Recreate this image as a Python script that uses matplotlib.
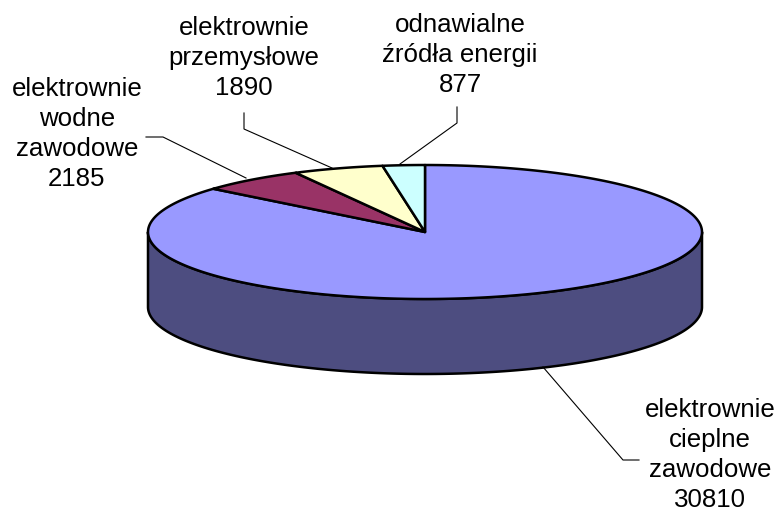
import numpy as np
import matplotlib
matplotlib.use("Agg")
import matplotlib.pyplot as plt

labels = ["elektrownie\ncieplne\nzawodowe", "elektrownie\nwodne\nzawodowe",
          "elektrownie\nprzemysłowe", "odnawialne\nźródła energii"]
values = [30810, 2185, 1890, 877]
colors = ["#9999FF", "#993366", "#FFFFCC", "#CCFFFF"]
side_color = "#4D4D80"

plt.rcParams["font.family"] = ["Liberation Sans", "DejaVu Sans"]
fig = plt.figure(figsize=(7.78, 5.12), dpi=100)
ax = fig.add_axes([0, 0, 1, 1])
ax.set_xlim(0, 778)
ax.set_ylim(512, 0)
ax.axis("off")

cx, cy, rx, ry, depth = 425, 232, 277, 67, 75

def pt(frac):
    a = 2 * np.pi * np.asarray(frac)
    return cx + rx * np.sin(a), cy - ry * np.cos(a)

# side wall (front half of the rim)
f = np.linspace(0.25, 0.75, 200)
x, y = pt(f)
ax.fill(np.r_[x, x[::-1]], np.r_[y + depth, y[::-1]], fc=side_color, ec="black", lw=1.8,
        joinstyle="round", zorder=1)

# top wedges, clockwise from 12 o'clock
fr = np.cumsum([0] + values) / sum(values)
for i, c in enumerate(colors):
    f = np.linspace(fr[i], fr[i + 1], 240)
    x, y = pt(f)
    ax.fill(np.r_[cx, x], np.r_[cy, y], fc=c, ec="black", lw=1.8, joinstyle="round", zorder=2)

# leader lines
leaders = [([543, 623, 639], [367, 460, 460]),
           ([146, 163, 246], [137, 137, 178]),
           ([244, 244, 332], [113, 129, 168]),
           ([457, 457, 400], [107, 123, 164])]
for lx, ly in leaders:
    ax.plot(lx, ly, color="black", lw=0.8, zorder=3)

# labels
positions = [(710, 455), (77, 134), (244, 58), (460, 55)]
for i, (px, py) in enumerate(positions):
    txt = labels[i] + "\n" + str(values[i])
    ax.text(px, py, txt, ha="center", va="center", fontsize=18.6,
            linespacing=1.32, color="black", zorder=4)

fig.savefig("out.png", dpi=100)
